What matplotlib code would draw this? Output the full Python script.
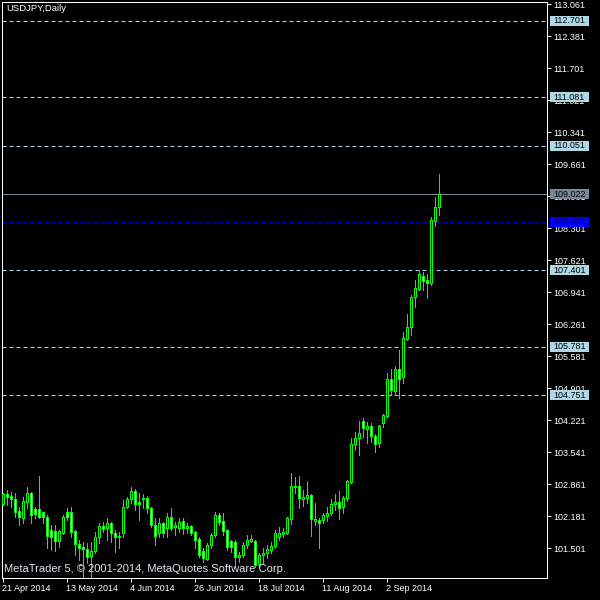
import matplotlib
matplotlib.use("Agg")
import matplotlib.pyplot as plt
import matplotlib.transforms as mtransforms
from matplotlib.patches import Rectangle

plt.rcParams['font.family'] = ['Liberation Sans', 'DejaVu Sans']

# daily USDJPY bars, 21 Apr 2014 .. 19 Sep 2014
opens = [102.429, 102.641, 102.606, 102.535, 102.294, 102.131, 102.486, 102.663, 102.330, 102.323,
         102.259, 102.153, 101.884, 101.862, 101.650, 101.827, 102.259, 102.273, 101.862, 101.579,
         101.515, 101.473, 101.331, 101.444, 101.742, 101.976, 101.919, 102.025, 101.827, 101.728,
         101.827, 102.379, 102.535, 102.719, 102.471, 102.535, 102.556, 102.344, 101.990, 101.813,
         102.025, 101.919, 102.153, 101.955, 101.919, 102.075, 101.919, 101.969, 101.848, 101.692,
         101.444, 101.267, 101.565, 101.777, 102.202, 102.075, 101.884, 101.657, 101.636, 101.317,
         101.352, 101.565, 101.657, 101.657, 101.161, 101.352, 101.402, 101.459, 101.544, 101.728,
         101.799, 101.813, 102.110, 102.790, 102.819, 102.549, 102.557, 102.627, 102.082, 102.096,
         102.096, 102.188, 102.252, 102.429, 102.479, 102.365, 102.557, 102.911, 103.704, 103.831,
         104.193, 104.037, 104.094, 103.881, 103.725, 104.150, 104.306, 105.085, 104.845, 105.298,
         105.128, 105.935, 106.205, 106.828, 107.012, 107.281, 107.196, 107.125, 108.457, 108.754]
highs = [102.663, 102.734, 102.684, 102.663, 102.379, 102.592, 102.804, 102.684, 102.379, 103.031,
         102.273, 102.202, 101.990, 101.990, 101.884, 102.202, 102.358, 102.379, 101.884, 101.671,
         101.636, 101.600, 101.636, 101.848, 102.025, 102.061, 102.131, 102.061, 101.884, 101.848,
         102.521, 102.592, 102.790, 102.748, 102.663, 102.641, 102.606, 102.379, 102.131, 102.131,
         102.061, 102.252, 102.344, 102.061, 102.131, 102.131, 102.025, 101.990, 101.869, 101.742,
         101.494, 101.600, 101.813, 102.273, 102.238, 102.238, 101.898, 101.671, 101.671, 101.423,
         101.636, 101.777, 101.777, 101.671, 101.388, 101.494, 101.565, 101.636, 101.884, 101.955,
         101.919, 102.167, 103.102, 103.017, 103.031, 102.734, 102.925, 102.642, 102.464, 102.132,
         102.238, 102.365, 102.542, 102.649, 102.712, 102.606, 102.946, 103.839, 103.966, 104.207,
         104.271, 104.186, 104.164, 103.924, 104.115, 104.349, 105.213, 105.298, 105.369, 105.709,
         106.098, 106.474, 106.877, 107.196, 107.394, 107.359, 107.324, 108.542, 108.967, 109.448]
lows = [102.415, 102.415, 102.379, 102.167, 101.990, 102.025, 102.344, 102.025, 102.131, 102.131,
        102.025, 101.494, 101.459, 101.444, 101.529, 101.799, 102.096, 101.742, 101.352, 101.246,
        100.821, 101.175, 100.892, 101.388, 101.600, 101.848, 101.671, 101.636, 101.423, 101.494,
        101.742, 102.344, 102.464, 102.309, 102.096, 102.344, 102.238, 101.955, 101.565, 101.742,
        101.742, 101.742, 101.884, 101.777, 101.848, 101.799, 101.813, 101.777, 101.494, 101.317,
        101.211, 101.246, 101.494, 101.742, 101.990, 101.777, 101.459, 101.423, 101.104, 101.211,
        101.317, 101.494, 101.636, 101.104, 101.104, 101.175, 101.282, 101.388, 101.494, 101.671,
        101.742, 101.799, 102.011, 102.663, 102.344, 102.394, 102.450, 101.763, 101.990, 101.508,
        102.025, 102.082, 102.202, 102.309, 102.124, 102.238, 102.507, 102.889, 103.584, 103.477,
        103.853, 103.739, 103.761, 103.548, 103.654, 104.079, 104.292, 104.752, 104.752, 104.682,
        105.000, 105.921, 106.027, 106.630, 106.984, 106.984, 106.807, 107.090, 108.351, 108.577]
closes = [102.641, 102.592, 102.535, 102.273, 102.167, 102.507, 102.663, 102.202, 102.216, 102.167,
          102.153, 101.756, 101.742, 101.657, 101.862, 102.167, 102.153, 101.834, 101.579, 101.494,
          101.473, 101.317, 101.444, 101.742, 101.976, 101.898, 102.025, 101.813, 101.728, 101.756,
          102.365, 102.535, 102.712, 102.429, 102.436, 102.556, 102.344, 101.990, 101.756, 102.025,
          101.813, 102.153, 101.919, 101.990, 102.061, 101.919, 101.969, 101.827, 101.671, 101.352,
          101.282, 101.565, 101.777, 102.202, 102.061, 101.869, 101.529, 101.529, 101.317, 101.352,
          101.565, 101.671, 101.692, 101.140, 101.352, 101.402, 101.473, 101.544, 101.827, 101.827,
          101.848, 102.132, 102.819, 102.819, 102.557, 102.585, 102.627, 102.110, 102.124, 102.025,
          102.202, 102.238, 102.429, 102.479, 102.344, 102.557, 102.925, 103.711, 103.846, 103.952,
          104.044, 104.094, 103.881, 103.704, 104.094, 104.327, 105.085, 104.859, 105.298, 105.085,
          105.957, 106.190, 106.842, 107.019, 107.317, 107.182, 107.140, 108.471, 108.754, 109.022]

date_idx = [0, 16, 32, 48, 64, 80, 96]
date_labels = ['21 Apr 2014', '13 May 2014', '4 Jun 2014', '26 Jun 2014',
               '18 Jul 2014', '11 Aug 2014', '2 Sep 2014']
price_ticks = [113.061, 112.381, 111.701, 111.021, 110.341, 109.661, 108.981, 108.301, 107.621,
               106.941, 106.261, 105.581, 104.901, 104.221, 103.541, 102.861, 102.181, 101.501]
levels = [112.701, 111.081, 110.051, 107.401, 105.781, 104.751]
bid = 109.022
ask = 108.431

green = '#00ff00'
px = 0.72  # one pixel in points

fig = plt.figure(figsize=(6, 6), dpi=100, facecolor='black')
ax = fig.add_axes([2/600, 22/600, 545/600, 576/600])
ax.set_facecolor('black')

x = list(range(len(opens)))
ax.vlines(x, lows, highs, color=green, lw=px, antialiased=False, zorder=3)
heights = [max(abs(c - o), 0.012) for o, c in zip(opens, closes)]
bottoms = [min(o, c) for o, c in zip(opens, closes)]
fills = ['white' if c < o else 'black' for o, c in zip(opens, closes)]
ax.bar(x, heights, bottom=bottoms, width=0.5, color=fills, edgecolor=green,
       linewidth=px, antialiased=False, zorder=4)

for lv in levels:
    ax.axhline(lv, color='#add8e6', lw=px, linestyle=(0, (4, 3)), zorder=2)
ax.axhline(ask, color='#0000cd', lw=px, linestyle=(0, (4, 3)), zorder=2)
ax.axhline(bid, color='#778899', lw=px, zorder=2)

ax.set_xlim(-0.125, 136.125)
ax.set_ylim(100.864, 113.104)

for s in ax.spines.values():
    s.set_color('white')
    s.set_linewidth(px)

ax.yaxis.tick_right()
ax.set_yticks(price_ticks)
ax.set_yticklabels(['%.3f' % v for v in price_ticks])
ax.tick_params(axis='y', colors='white', length=2.9, width=px, pad=1.4, labelsize=6.5)
ax.set_xticks(date_idx)
ax.set_xticklabels(date_labels)
ax.tick_params(axis='x', colors='white', length=2.9, width=px, pad=1.4, labelsize=6.5)
plt.setp(ax.get_xticklabels(), ha='left')

# price label boxes on the right scale
blend = mtransforms.blended_transform_factory(fig.transFigure, ax.transData)
boxes = [(lv, '#add8e6', 'black') for lv in levels]
boxes.append((bid, '#778899', 'black'))
boxes.append((ask, '#0000ff', '#000080'))
for lv, bg, fg in boxes:
    fig.add_artist(Rectangle((550/600, lv - 0.106), 39/600, 0.2125, transform=blend,
                             facecolor=bg, edgecolor='none', zorder=5))
    fig.text(553/600, lv, '%.3f' % lv, transform=blend, ha='left', va='center',
             fontsize=6.5, color=fg, zorder=6)

fig.text(6/600, 1 - 4/600, 'USDJPY,Daily', ha='left', va='top', fontsize=6.8, color='white')
fig.text(4/600, 1 - 569/600, 'MetaTrader 5, \u00a9 2001-2014, MetaQuotes Software Corp.',
         ha='left', va='center', fontsize=8, color='#e0e8f0', zorder=6)

fig.savefig('out.png', dpi=100, facecolor='black')
